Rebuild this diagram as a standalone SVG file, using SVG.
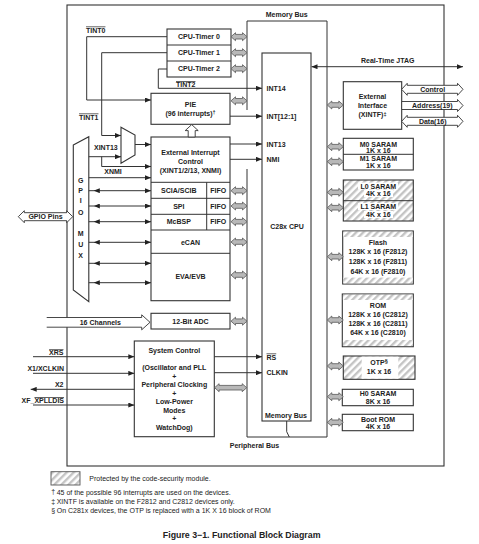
<svg xmlns="http://www.w3.org/2000/svg" xmlns:xlink="http://www.w3.org/1999/xlink" width="479" height="544" viewBox="0 0 479 544">
<style>
text{font-family:"Liberation Sans",Arial,sans-serif;font-size:7px;font-weight:bold;fill:#222}
.c{text-anchor:middle}
.e{text-anchor:end}
.n{font-weight:normal;font-size:7px}
.box{fill:#fff;stroke:#333;stroke-width:1.1}
.ln{fill:none;stroke:#333;stroke-width:1}
.arr{marker-end:url(#ah)}
.hol{fill:#fff;stroke:#333;stroke-width:0.9}
.ol{text-decoration:overline}
</style>
<defs>
<marker id="ah" viewBox="0 0 6 5" refX="6" refY="2.5" markerWidth="6" markerHeight="5" orient="auto-start-reverse" markerUnits="userSpaceOnUse"><path d="M0,0 L6,2.5 L0,5 Z" fill="#222"/></marker>
<marker id="al" viewBox="0 0 6 5" refX="-5" refY="2.5" markerWidth="6" markerHeight="5" orient="0" markerUnits="userSpaceOnUse"><path d="M6,0 L0,2.5 L6,5 Z" fill="#222"/></marker>
<path id="ba" d="M0,0 L4.5,-4 V-2.3 H11.5 V-4 L16,0 L11.5,4 V2.3 H4.5 V4 Z" fill="#b8b8b8" stroke="#555" stroke-width="0.8"/>
<pattern id="hatch" width="5" height="5" patternUnits="userSpaceOnUse" patternTransform="rotate(45)"><rect width="5" height="5" fill="#fff"/><rect width="2.4" height="5" fill="#c4c4c4"/></pattern>
</defs>

<rect x="67" y="5" width="377" height="461" fill="#fff" stroke="#333" stroke-width="1.1"/>

<g id="buses">
<path class="ln" d="M247,110 V21 H327 V437 H247 V169" stroke-width="1.2"/>
<text x="286.7" y="16.5" class="c">Memory Bus</text>
<text x="254.5" y="448" class="c">Peripheral Bus</text>
</g>

<g id="cpu">
<rect class="box" x="262" y="53" width="49" height="368"/>
<text x="287" y="229" class="c">C28x CPU</text>
<text x="266.5" y="90.8">INT14</text>
<text x="266.5" y="119">INT[12:1]</text>
<text x="266.5" y="147.3">INT13</text>
<text x="266.5" y="161.8">NMI</text>
<text x="266.5" y="359.5" class="ol">RS</text>
<text x="266.5" y="375.2">CLKIN</text>
<text x="265" y="418.2">Memory Bus</text>
</g>

<g id="timers">
<rect class="box" x="167" y="29" width="64" height="48"/>
<path class="ln" d="M167,45 H231 M167,61 H231"/>
<text x="199" y="39.3" class="c">CPU-Timer 0</text>
<text x="199" y="55.2" class="c">CPU-Timer 1</text>
<text x="199" y="71.2" class="c">CPU-Timer 2</text>
</g>

<g id="pie">
<rect class="box" x="151" y="93.3" width="79" height="31"/>
<text x="190.5" y="106.8" class="c">PIE</text>
<text x="190.5" y="116" class="c">(96 interrupts)<tspan dy="-2" font-size="5.5">†</tspan></text>
</g>

<g id="peripherals">
<rect class="box" x="151" y="137" width="79" height="163.7"/>
<path class="ln" d="M151,182.3 H230 M151,198.3 H230 M151,214.3 H230 M151,230 H230 M151,253.3 H230 M206.7,182.3 V230"/>
<text x="190.5" y="154.8" class="c">External Interrupt</text>
<text x="190.5" y="163.6" class="c">Control</text>
<text x="190.5" y="172.5" class="c">(XINT1/2/13, XNMI)</text>
<text x="178.8" y="193.2" class="c">SCIA/SCIB</text>
<text x="218.3" y="193.2" class="c">FIFO</text>
<text x="178.8" y="208.7" class="c">SPI</text>
<text x="218.3" y="208.7" class="c">FIFO</text>
<text x="178.8" y="224.3" class="c">McBSP</text>
<text x="218.3" y="224.3" class="c">FIFO</text>
<text x="190.5" y="244.8" class="c">eCAN</text>
<text x="190.5" y="278.5" class="c">EVA/EVB</text>
</g>

<g id="adc">
<rect class="box" x="151" y="313.3" width="79" height="15.7"/>
<text x="190.5" y="323.8" class="c">12-Bit ADC</text>
</g>

<g id="sysctl">
<rect class="box" x="134.3" y="341" width="80" height="95.7"/>
<text x="174.3" y="352.6" class="c">System Control</text>
<text x="174.3" y="369.8" class="c">(Oscillator and  PLL</text>
<text x="174.3" y="378.5" class="c">+</text>
<text x="174.3" y="387.2" class="c">Peripheral Clocking</text>
<text x="174.3" y="395.7" class="c">+</text>
<text x="174.3" y="404.2" class="c">Low-Power</text>
<text x="174.3" y="412.6" class="c">Modes</text>
<text x="174.3" y="420.8" class="c">+</text>
<text x="174.3" y="429.8" class="c">WatchDog)</text>
</g>

<g id="mux">
<polygon class="box" points="121,127.3 135,135 135,155 121,163.3"/>
</g>

<g id="gpiomux">
<polygon class="box" points="73.3,145 88.8,136.7 88.8,301.7 73.3,290"/>
<text x="80.7" y="183.2" class="c">G</text>
<text x="80.7" y="193.2" class="c">P</text>
<text x="80.7" y="203.2" class="c">I</text>
<text x="80.7" y="215.2" class="c">O</text>
<text x="80.7" y="235.8" class="c">M</text>
<text x="80.7" y="246.8" class="c">U</text>
<text x="80.7" y="258.2" class="c">X</text>
</g>

<g id="gpiopins">
<path class="hol" d="M18.3,216.7 L24.3,210.7 V212.7 H66.7 V210.7 L72.7,216.7 L66.7,222.7 V220.7 H24.3 V222.7 Z"/>
<text x="45.5" y="219.2" class="c">GPIO Pins</text>
</g>

<g id="xintf">
<rect class="box" x="343.3" y="81.7" width="58.4" height="47.6"/>
<text x="372.5" y="98.5" class="c">External</text>
<text x="372.5" y="107.6" class="c">Interface</text>
<text x="372.5" y="116.8" class="c">(XINTF)<tspan font-size="5.5" dy="-1">‡</tspan></text>
</g>

<g id="m0m1">
<rect class="box" x="343.3" y="138.3" width="70" height="31.7"/>
<path class="ln" d="M343.3,154.3 H413.3"/>
<text x="378.3" y="146.8" class="c">M0 SARAM</text>
<text x="378.3" y="153" class="c">1K x 16</text>
<text x="378.3" y="161.3" class="c">M1 SARAM</text>
<text x="378.3" y="168.3" class="c">1K x 16</text>
</g>

<g id="l0l1">
<rect x="343.3" y="180" width="70" height="41" fill="url(#hatch)" stroke="#333" stroke-width="1.1"/>
<path class="ln" d="M343.3,200.7 H413.3"/>
<rect x="358" y="182.5" width="40" height="7" fill="#fff"/>
<rect x="364" y="190" width="29" height="7" fill="#fff"/>
<rect x="358" y="203" width="40" height="7" fill="#fff"/>
<rect x="364" y="211" width="29" height="7" fill="#fff"/>
<text x="378.3" y="188.6" class="c">L0 SARAM</text>
<text x="378.3" y="196.3" class="c">4K x 16</text>
<text x="378.3" y="209.3" class="c">L1 SARAM</text>
<text x="378.3" y="216.9" class="c">4K x 16</text>
</g>

<g id="flash">
<rect x="342.7" y="231" width="70.6" height="53" fill="#fff" stroke="#333" stroke-width="1.1"/>
<rect x="343.3" y="231.6" width="69.4" height="5.4" fill="url(#hatch)"/>
<rect x="343.3" y="277.6" width="69.4" height="5.8" fill="url(#hatch)"/>
<text x="378" y="245.3" class="c">Flash</text>
<text x="378" y="254.3" class="c">128K x 16 (F2812)</text>
<text x="378" y="264.2" class="c">128K x 16 (F2811)</text>
<text x="378" y="273.5" class="c">64K x 16 (F2810)</text>
</g>

<g id="rom">
<rect x="342.3" y="294" width="71" height="52.7" fill="#fff" stroke="#333" stroke-width="1.1"/>
<rect x="342.9" y="294.6" width="69.8" height="5.4" fill="url(#hatch)"/>
<rect x="342.9" y="340" width="69.8" height="6.1" fill="url(#hatch)"/>
<text x="378" y="307.6" class="c">ROM</text>
<text x="378" y="316.6" class="c">128K x 16 (C2812)</text>
<text x="378" y="325.9" class="c">128K x 16 (C2811)</text>
<text x="378" y="335.2" class="c">64K x 16 (C2810)</text>
</g>

<g id="otp">
<rect x="343.3" y="356" width="71.7" height="23.3" fill="url(#hatch)" stroke="#333" stroke-width="1.1"/>
<rect x="361.7" y="356.6" width="36.6" height="22.1" fill="#fff"/>
<text x="379" y="364.8" class="c">OTP<tspan font-size="5.5" dy="-1.5">§</tspan></text>
<text x="379" y="374.2" class="c">1K x 16</text>
</g>

<g id="h0">
<rect class="box" x="342.3" y="389.3" width="71" height="16.4"/>
<text x="378" y="395.8" class="c">H0 SARAM</text>
<text x="378" y="403.5" class="c">8K x 16</text>
</g>

<g id="bootrom">
<rect class="box" x="342.3" y="414.3" width="71" height="16.4"/>
<text x="378" y="421.8" class="c">Boot ROM</text>
<text x="378" y="428.6" class="c">4K x 16</text>
</g>

<g id="connectors">
<path class="ln arr" d="M167,36.7 H86.7 V100 H151"/>
<path class="ln arr" d="M167,52.7 H101.7 V135.5 H121"/>
<path class="ln arr" d="M167,69 H158.3 V88.3 H262"/>
<path class="ln arr" d="M230,116.2 H262"/>
<path class="ln arr" d="M230,144 H262"/>
<path class="ln arr" d="M230,159.3 H262"/>
<path class="ln arr" d="M135,144.5 H151"/>
<path class="ln arr" d="M88.8,156.7 H121"/>
<path class="ln arr" d="M101.7,156.7 V166.5 H151"/>
<path class="ln arr" d="M88.8,177.7 H151"/>
<g style="marker-start:url(#al)">
<path class="ln arr" d="M88.8,190.7 H151"/>
<path class="ln arr" d="M88.8,206 H151"/>
<path class="ln arr" d="M88.8,221.7 H151"/>
<path class="ln arr" d="M88.8,242.3 H151"/>
<path class="ln arr" d="M88.8,263.3 H151"/>
<path class="ln arr" d="M88.8,282.7 H151"/>
</g>
<path class="ln arr" d="M33,356.7 H134.3"/>
<path class="ln arr" d="M33,373.3 H134.3"/>
<path class="ln arr" d="M134.3,389.3 H30.7"/>
<path class="ln arr" d="M33,405 H134.3"/>
<path class="ln arr" d="M214.3,356.7 H262"/>
<path class="ln arr" d="M214.3,372.7 H262"/>
<path class="ln arr" style="marker-start:url(#ah)" d="M311.5,66.7 H463"/>
<path class="ln" d="M286.7,421 V431.7 L289.3,437"/>
<path class="hol" d="M191.7,124.6 L198.2,130.6 H195.2 V137 H188.2 V130.6 H185.2 Z"/>
<path class="hol" d="M46.7,317.5 H141.7 V314.8 L150,322.3 L141.7,329.8 V327.2 H46.7"/>
<path class="hol" d="M401.7,89.3 L407.2,83.3 V85.3 H457.5 V83.3 L463,89.3 L457.5,95.3 V93.3 H407.2 V95.3 Z"/>
<path class="hol" d="M401.7,101.5 H457.5 V99.5 L463,105.5 L457.5,111.5 V109.5 H401.7 Z"/>
<path class="hol" d="M401.7,121.3 L407.2,115.3 V117.3 H457.5 V115.3 L463,121.3 L457.5,127.3 V125.3 H407.2 V127.3 Z"/>
<use href="#ba" x="231" y="36.7"/>
<use href="#ba" x="231" y="52.7"/>
<use href="#ba" x="231" y="68.7"/>
<use href="#ba" x="231" y="100.8"/>
<use href="#ba" x="231" y="190.7"/>
<use href="#ba" x="231" y="206"/>
<use href="#ba" x="231" y="221.7"/>
<use href="#ba" x="231" y="242"/>
<use href="#ba" x="231" y="275"/>
<use href="#ba" x="231" y="321.2"/>
<use href="#ba" x="327.3" y="105"/>
<use href="#ba" x="327.3" y="146.7"/>
<use href="#ba" x="327.3" y="161.7"/>
<use href="#ba" x="327.3" y="192.3"/>
<use href="#ba" x="327.3" y="207.7"/>
<use href="#ba" x="327.3" y="256.7"/>
<use href="#ba" x="327.3" y="320"/>
<use href="#ba" x="327.3" y="366"/>
<use href="#ba" x="327.3" y="396.7"/>
<use href="#ba" x="327.3" y="422.3"/>
<path d="M214.6,387.7 L219.1,383.7 V385.4 H242.2 V383.7 L246.7,387.7 L242.2,391.7 V390 H219.1 V391.7 Z" fill="#b8b8b8" stroke="#555" stroke-width="0.8"/>
</g>

<g id="labels">
<text x="86" y="32.5" class="ol">TINT0</text>
<text x="79" y="119.5" class="ol">TINT1</text>
<text x="176" y="87" class="ol">TINT2</text>
<text x="94" y="149.6">XINT13</text>
<text x="104.3" y="173.6">XNMI</text>
<text x="63.5" y="355.4" class="e ol">XRS</text>
<text x="64" y="370.8" class="e">X1/XCLKIN</text>
<text x="63.5" y="387" class="e">X2</text>
<text x="64" y="403" class="e">XF_<tspan class="ol">XPLLDIS</tspan></text>
<text x="387.7" y="63" class="c">Real-Time JTAG</text>
<text x="432.7" y="91.8" class="c">Control</text>
<text x="432.3" y="108" class="c">Address(19)</text>
<text x="432.7" y="123.8" class="c">Data(16)</text>
<text x="100.3" y="324.6" class="c">16 Channels</text>
</g>

<g id="legend">
<rect x="51" y="471.7" width="29" height="13.3" fill="url(#hatch)" stroke="#555" stroke-width="0.9"/>
<text x="89.3" y="481.2" class="n">Protected by the code-security module.</text>
<text x="51.3" y="494.3" class="n" font-size="6">†</text>
<text x="56.7" y="494.7" class="n">45 of the possible 96 interrupts are used on the devices.</text>
<text x="51.3" y="503.5" class="n" font-size="6">‡</text>
<text x="56.7" y="504" class="n">XINTF is available on the F2812 and C2812 devices only.</text>
<text x="51.3" y="512.5" class="n" font-size="6">§</text>
<text x="56.7" y="513" class="n">On C281x devices, the OTP is replaced with a 1K X 16 block of ROM</text>
<text x="241.7" y="538" class="c" style="font-size:8.8px">Figure 3−1.  Functional Block Diagram</text>
</g>
</svg>
